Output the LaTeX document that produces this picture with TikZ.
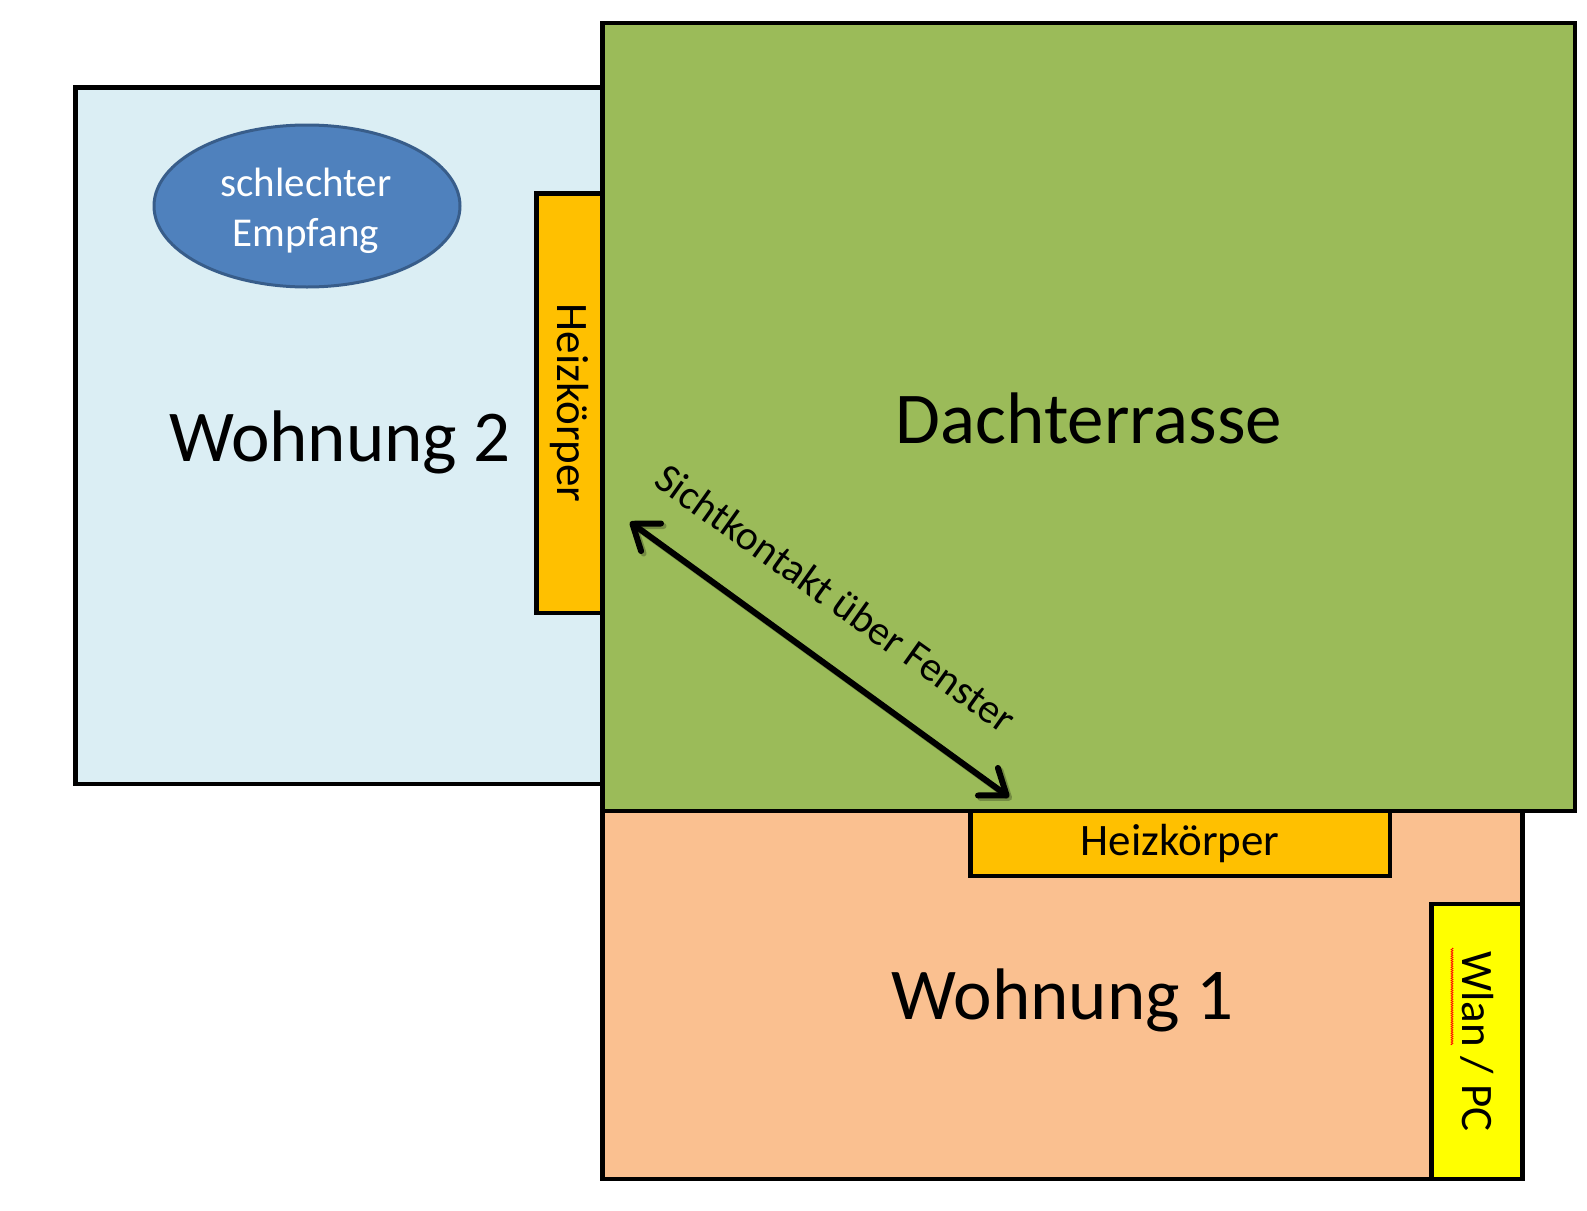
\documentclass[tikz,border=0pt]{standalone}
\usepackage{fontspec}
\setmainfont{Carlito}
\usetikzlibrary{arrows.meta,shapes.geometric,decorations.pathmorphing}
\definecolor{wblue}{HTML}{DBEEF4}
\definecolor{dgreen}{HTML}{9BBB59}
\definecolor{wpeach}{HTML}{FAC090}
\definecolor{heizc}{HTML}{FFC000}
\definecolor{wlanc}{HTML}{FFFF00}
\definecolor{ellfill}{HTML}{4F81BD}
\definecolor{elldraw}{HTML}{385D8A}
\tikzset{
  room/.style={draw=black, line width=4.5pt, rectangle, inner sep=0pt},
  roomlabel/.style={inner sep=0pt, font=\fontsize{73}{80}\selectfont},
  heizbox/.style={draw=black, line width=4.5pt, fill=heizc, rectangle, inner sep=0pt, font=\fontsize{45}{50}\selectfont},
  wlanbox/.style={draw=black, line width=4.5pt, fill=wlanc, rectangle, inner sep=0pt, font=\fontsize{45}{50}\selectfont},
  bubble/.style={ellipse, draw=elldraw, line width=3pt, fill=ellfill, inner sep=0pt},
  bubbletext/.style={text=white, align=center, inner sep=0pt, font=\fontsize{41}{50}\selectfont},
  sightarrow/.style={line width=6pt, line cap=round, {Straight Barb[length=23pt,width=34pt,round]}-{Straight Barb[length=23pt,width=34pt,round]}},
  sightlabel/.style={inner sep=0pt, font=\fontsize{41.5}{46}\selectfont}
}
\begin{document}
\begin{tikzpicture}[x=1pt,y=-1pt]
\useasboundingbox[fill=white] (0,0) rectangle (1587,1210);
% Wohnung 2
\node[room, fill=wblue, minimum width=527, minimum height=696.5] (w2) at (339,435.75) {};
\node[roomlabel] (w2l) at (340,442) {Wohnung 2};
% Heizkoerper (vertical)
\node[heizbox, minimum width=419.5, minimum height=66, rotate=-90] (hv) at (569.5,403.25) {Heizkörper};
% Dachterrasse
\node[room, fill=dgreen, minimum width=972.5, minimum height=788] (dt) at (1088.75,417) {};
\node[roomlabel] (dtl) at (1088.75,418) {Dachterrasse};
% Wohnung 1
\node[room, fill=wpeach, minimum width=920, minimum height=368] (w1) at (1062.5,995) {};
\node[roomlabel] (w1l) at (1062.5,1000) {Wohnung 1};
% Heizkoerper (horizontal)
\node[heizbox, minimum width=419.5, minimum height=65] (hh) at (1180.25,843.5) {Heizkörper};
% Wlan / PC
\node[wlanbox, minimum width=275, minimum height=91, rotate=-90] (wlan) at (1477,1041.5) {Wlan / PC};
\draw[red, line width=0.7pt, decorate, decoration={zigzag, amplitude=1pt, segment length=2.2pt}] (1452,948) -- (1452,1045);
% Ellipse
\node[bubble, minimum width=306, minimum height=162] (emp) at (307,206) {};
\node[bubbletext] (empt) at (306,211) {schlechter\\Empfang};
% Arrow
\coordinate (a1) at (630,522);
\coordinate (a2) at (1009,797);
\draw[sightarrow, black, opacity=0.25, transform canvas={shift={(2.5,2.5)}}] (a1) -- (a2);
\draw[sightarrow, black] (a1) -- (a2);
\node[sightlabel, rotate=-35.5] (sicht) at (836,598) {Sichtkontakt über Fenster};
\end{tikzpicture}
\end{document}
